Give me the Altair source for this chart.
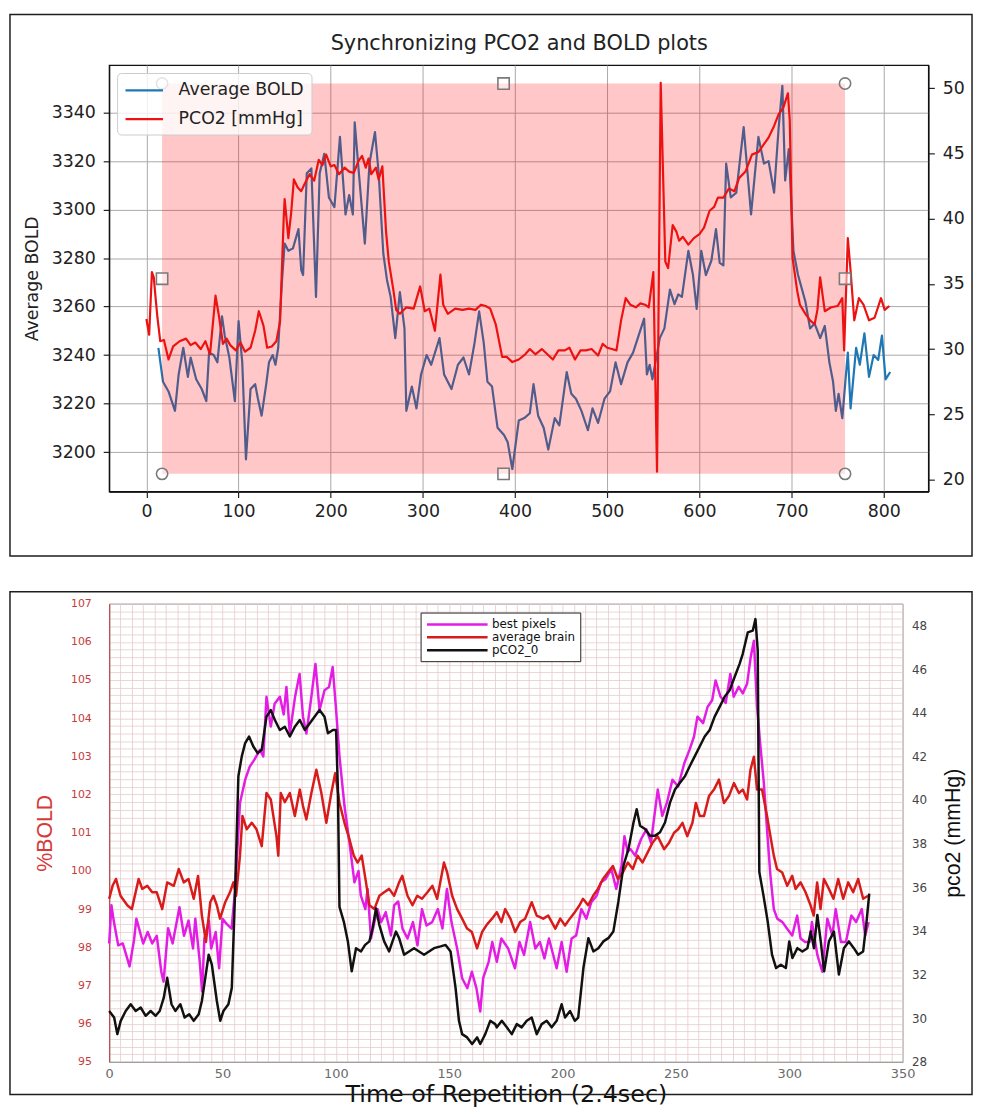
import altair as alt
import pandas as pd

FONT = "DejaVu Sans"
TOP_W, TOP_H = 826, 430
BOT_W, BOT_H = 800, 462

# ---------------- top panel data ----------------
bold_t = [13, 18, 24, 31, 35, 40, 45, 48, 54, 60, 65, 68, 73, 77, 82, 85, 90, 96, 100, 104,
          108, 113, 118, 121, 125, 130, 133, 137, 140, 143, 147, 150, 154, 159, 165, 168, 170, 174, 179, 184,
          188, 193, 198, 204, 210, 216, 220, 224, 226, 231, 237, 242, 248, 252, 257, 261, 265, 270, 275, 280,
          282, 288, 293, 298, 304, 309, 318, 323, 331, 338, 344, 350, 356, 361, 366, 370, 375, 381, 388, 392,
          397, 404, 410, 416, 420, 425, 431, 436, 443, 448, 456, 461, 466, 472, 479, 484, 490, 497, 503, 509,
          515, 522, 528, 534, 540, 543, 546, 549, 557, 562, 568, 573, 577, 581, 588, 593, 597, 602, 607, 613,
          618, 622, 626, 629, 634, 640, 648, 656, 664, 670, 675, 681, 686, 690, 693, 697, 702, 707, 715, 720,
          725, 731, 736, 741, 745, 748, 751, 755, 761, 764, 770, 774, 779, 784, 789, 794, 798, 802, 807]
bold_v = [3243, 3229, 3225, 3217, 3232, 3243, 3231, 3239, 3230, 3226, 3221, 3241, 3240, 3237, 3256, 3248, 3239, 3221, 3254, 3237,
          3197, 3226, 3228, 3222, 3215, 3228, 3237, 3240, 3236, 3243, 3270, 3286, 3283, 3284, 3292, 3275, 3273, 3315, 3317, 3264,
          3315, 3323, 3305, 3301, 3330, 3298, 3306, 3298, 3336, 3313, 3286, 3319, 3332, 3315, 3282, 3271, 3264, 3247, 3266, 3251,
          3217, 3227, 3218, 3232, 3240, 3236, 3247, 3232, 3226, 3236, 3239, 3232, 3245, 3258, 3245, 3229, 3227, 3210, 3207, 3204,
          3193, 3213, 3214, 3216, 3228, 3215, 3210, 3201, 3214, 3211, 3233, 3224, 3222, 3217, 3209, 3218, 3212, 3222, 3225, 3237,
          3228, 3237, 3241, 3248, 3255, 3232, 3236, 3230, 3247, 3251, 3267, 3261, 3265, 3264, 3283, 3273, 3259, 3283, 3273, 3279,
          3292, 3278, 3277, 3319, 3305, 3307, 3334, 3298, 3330, 3319, 3320, 3307, 3334, 3351, 3312, 3325, 3283, 3273, 3262, 3251,
          3253, 3247, 3252, 3237, 3229, 3217, 3224, 3214, 3241, 3218, 3243, 3236, 3249, 3231, 3240, 3238, 3248, 3230, 3233]

pco2_t = [0, 3, 6, 8, 10, 12, 15, 19, 24, 29, 36, 43, 48, 53, 59, 64, 69, 75, 79, 83,
          87, 91, 97, 102, 107, 113, 118, 122, 127, 131, 136, 141, 145, 149, 150, 154, 157, 160, 164, 168,
          172, 177, 182, 187, 191, 195, 200, 204, 209, 215, 220, 225, 230, 234, 238, 241, 244, 249, 252, 256,
          260, 263, 268, 271, 275, 282, 290, 297, 302, 307, 313, 319, 322, 327, 335, 343, 350, 357, 363, 368,
          373, 379, 386, 391, 397, 404, 411, 416, 422, 429, 435, 441, 447, 454, 459, 465, 471, 477, 483, 490,
          495, 500, 505, 510, 515, 520, 525, 531, 536, 541, 545, 550, 554, 558, 563, 566, 571, 575, 578, 582,
          588, 594, 600, 605, 611, 616, 620, 626, 632, 638, 643, 650, 657, 664, 670, 675, 681, 686, 691, 696,
          698, 701, 706, 709, 715, 720, 725, 728, 731, 736, 743, 750, 755, 757, 761, 764, 768, 773, 778, 784,
          790, 797, 801, 806]
pco2_v = [32.3, 31.1, 35.9, 35.5, 33.9, 32.4, 30.6, 30.7, 29.2, 30.2, 30.6, 30.8, 30.3, 30.5, 30.0, 30.6, 29.6, 34.1, 32.4, 30.4,
          30.8, 30.3, 29.9, 30.5, 29.8, 30.1, 31.4, 32.9, 31.8, 30.1, 30.2, 30.6, 32.1, 40.1, 41.5, 38.5, 40.4, 43.0, 42.4, 42.1,
          42.7, 43.4, 42.9, 44.5, 44.1, 44.9, 44.0, 44.1, 43.4, 43.9, 43.6, 43.5, 44.4, 44.8, 43.9, 44.6, 43.4, 43.9, 43.0, 44.0,
          39.0, 36.7, 34.5, 33.0, 32.7, 33.2, 33.1, 34.8, 32.9, 33.1, 31.4, 35.7, 33.4, 32.7, 33.1, 33.0, 33.1, 33.0, 33.4, 33.3,
          33.1, 31.9, 29.4, 29.4, 29.0, 29.2, 29.6, 30.0, 29.6, 30.0, 29.6, 29.2, 29.9, 29.9, 30.1, 29.2, 29.9, 29.9, 30.0, 29.5,
          30.4, 30.1, 30.0, 29.9, 32.2, 33.9, 33.4, 33.2, 33.5, 33.4, 33.2, 35.9, 20.6, 50.4, 36.7, 36.2, 39.5, 39.0, 38.3, 38.6,
          38.0, 38.5, 38.8, 39.3, 40.6, 40.9, 41.6, 41.6, 42.3, 42.1, 43.1, 43.6, 44.9, 45.1, 45.7, 46.2, 47.1, 48.0, 48.5, 49.6,
          47.5, 37.0, 34.5, 33.4, 32.7, 32.2, 31.9, 33.0, 35.5, 32.9, 33.2, 33.3, 33.9, 29.9, 38.5, 36.0, 32.2, 33.9, 33.4, 32.2,
          32.4, 33.9, 33.0, 33.3]

box_t = [17, 758]
box_v = [3191, 3352]
handle_t = [17, 387.5, 758, 17, 758, 17, 387.5, 758]
handle_v = [3352, 3352, 3352, 3271.5, 3271.5, 3191, 3191, 3191]
handle_shape = ["circle", "square", "circle", "square", "square", "circle", "square", "circle"]

top_title = "Synchronizing PCO2 and BOLD plots"
top_series = ["Average BOLD", "PCO2 [mmHg]"]
top_colors = ["#1f77b4", "#ee1111"]
top_x_ticks = list(range(0, 801, 100))
top_left_ticks = list(range(3200, 3341, 20))
top_right_ticks = list(range(20, 51, 5))

# ---------------- bottom panel data ----------------
best_t = [0, 1, 2, 4, 6, 9, 11, 12, 15, 17, 19, 21, 23, 24, 26, 28, 31, 33, 35, 37,
          38, 40, 41, 42, 44, 45, 47, 48.5, 50, 52, 54, 55.6, 57.7, 60, 62, 64, 66.5, 68, 69.4, 71.3,
          73, 75.3, 77, 78.2, 79.7, 82, 84, 85.5, 87, 89, 91, 92.8, 95, 97, 98.6, 100, 101.6, 103.8, 106, 108.2,
          110, 111, 113, 114, 115.5, 117, 118.4, 120, 122, 124.3, 125.7, 127.5, 129.4, 131.6, 134, 136, 138, 140, 142.5, 145,
          147, 149, 151, 153.5, 155.7, 158, 160, 162, 163.7, 165, 167.4, 169, 171, 173, 176, 179, 181, 183, 185.7, 188,
          190, 192, 194, 197.4, 199.6, 201.8, 204, 206, 208.3, 210.5, 212.7, 215, 217, 219, 221.5, 223.7, 226, 227.3, 228.7, 230,
          232, 234.6, 237, 239, 242, 244, 246, 248.5, 251, 253.7, 256, 258, 259.5, 262, 264, 266, 267.5, 269.7, 272, 274,
          275.5, 277.7, 279.5, 281.4, 283, 284.4, 285.8, 287.3, 288.8, 290.2, 291.7, 293.2, 294.7, 297, 299, 301.3, 303.5, 305, 307, 309,
          310, 312.4, 314.6, 316.8, 319, 320.5, 322.8, 325, 327.4, 329.5, 332, 333.5, 335]
best_v = [98.1, 99.1, 98.7, 98.05, 98.1, 97.5, 98.2, 98.75, 98.1, 98.4, 98.1, 98.3, 97.36, 97.1, 98.5, 98.1, 99.05, 98.3, 98.7, 97.97,
          98.75, 97.6, 96.84, 98.23, 98.7, 97.97, 98.4, 97.45, 98.75, 98.6, 98.49, 99.53, 101.78, 102.39, 102.73, 102.91, 103.17, 103.0, 104.56, 103.78,
          104.38, 104.56, 104.1, 104.82, 103.6, 104.56, 105.16, 104.04, 103.6, 104.47, 105.42, 104.21, 104.73, 104.82, 105.34, 104.3, 103.0, 101.7, 100.74, 99.7,
          100.0, 99.36, 99.0, 99.53, 98.23, 98.66, 99.0, 98.66, 98.92, 98.31, 99.1, 99.2, 98.49, 98.23, 98.66, 98.05, 99.0, 98.57, 98.66, 99.0,
          98.49, 99.53, 98.66, 97.97, 97.19, 96.93, 97.36, 96.93, 96.32, 97.2, 97.62, 98.14, 97.62, 98.23, 97.97, 97.45, 98.14, 97.8, 98.66, 97.97,
          98.14, 97.71, 98.23, 97.45, 98.14, 97.36, 98.23, 98.31, 99.0, 98.75, 99.18, 99.35, 99.7, 99.79, 100.05, 99.53, 100.13, 100.91, 100.5, 100.57,
          100.4, 100.83, 101.09, 100.74, 102.13, 101.44, 101.78, 102.39, 102.21, 102.82, 103.17, 103.52, 104.04, 103.87, 104.3, 104.47, 104.99, 104.56, 104.4, 105.16,
          104.56, 104.82, 104.65, 104.9, 105.6, 106.03, 104.3, 103.26, 102.3, 101.09, 99.88, 99.0, 98.75, 98.66, 98.49, 98.31, 98.83, 98.23, 98.14, 98.14,
          98.66, 97.8, 97.36, 98.75, 98.31, 99.0, 98.14, 98.14, 98.83, 98.66, 99.0, 98.31, 98.66]

avg_t = [0, 1.5, 3, 5, 8, 10, 13, 14.6, 16.8, 19, 21, 23.4, 25.6, 28.5, 30.7, 32.9, 35, 37.3, 39.2, 40.9,
         42.7, 44.6, 46, 47.5, 48.9, 51.2, 53.3, 54.8, 56, 57.7, 58.8, 60.7, 62.9, 65, 67.3, 69.4, 71.3, 73.8, 74.6, 75.7,
         77.5, 79.7, 81.9, 84.1, 85.5, 87, 89.2, 91.4, 93.6, 95.8, 98, 99.7, 101.6, 103.8, 106, 107.9, 109.6, 111.4, 113.3, 114.8,
         117, 119.2, 121.3, 123.5, 125.7, 127.9, 129.3, 131.6, 133.8, 135.9, 138, 140.4, 142.6, 144.7, 147.7, 149.1, 151.3, 153.5, 155.7, 157.9,
         160, 162.3, 164.5, 166.7, 168.9, 171, 173, 174.7, 177, 179.1, 181.3, 183.5, 186.4, 188.6, 191.5, 193.7, 196.8, 199, 201.1, 203.2,
         205.4, 207.5, 209, 211.3, 213.5, 215.6, 217.8, 220, 222.2, 224.4, 226.6, 228.8, 231, 233.1, 235.3, 237.5, 239.7, 241.9, 244.8, 247,
         249.2, 251, 252.9, 255, 257.3, 258.8, 260.5, 262.4, 264.6, 266.8, 269, 271.2, 273.4, 275.6, 277.8, 279.5, 281.4, 282.9, 284.4, 285.8,
         288, 290.2, 291.7, 293.2, 294.6, 296.9, 299.1, 301.3, 302.8, 305, 307.2, 309.4, 310.8, 312.3, 313.8, 315.3, 317.5, 319.5, 321.6, 323.8,
         326, 328.2, 330.4, 332.6, 334.8]
avg_v = [99.27, 99.61, 99.79, 99.35, 99.1, 99.0, 99.79, 99.53, 99.61, 99.44, 99.44, 99.0, 99.7, 99.61, 100.05, 99.7, 99.79, 99.27, 99.87, 98.83,
         98.14, 99.18, 99.35, 99.1, 98.75, 99.18, 99.44, 99.7, 99.35, 100.4, 101.44, 101.09, 101.26, 101.09, 100.65, 102.04, 101.87, 100.91, 100.4, 102.04,
         101.8, 102.04, 101.44, 102.13, 101.7, 101.35, 102.04, 102.65, 102.04, 101.26, 102.04, 102.56, 101.78, 101.26, 100.83, 100.4, 100.22, 100.4, 99.7, 99.1,
         99.0, 99.35, 99.44, 99.53, 99.35, 99.7, 99.87, 99.35, 99.1, 99.35, 99.27, 99.44, 99.61, 99.27, 100.22, 99.96, 99.35, 99.0, 98.75, 98.49,
         98.4, 97.97, 98.4, 98.6, 98.75, 98.92, 98.66, 99.0, 98.75, 98.4, 98.66, 98.75, 99.18, 98.83, 98.75, 98.83, 98.49, 98.75, 98.57, 98.75,
         98.92, 99.1, 99.27, 99.1, 99.35, 99.53, 99.79, 99.96, 100.13, 99.79, 99.96, 100.22, 100.05, 100.4, 100.22, 100.48, 100.74, 100.91, 100.57, 100.74,
         101.0, 101.09, 101.26, 100.91, 101.26, 101.78, 101.44, 101.44, 101.96, 102.13, 102.39, 101.78, 101.96, 102.3, 102.04, 102.13, 101.87, 102.65, 102.99, 102.13,
         102.13, 101.44, 100.91, 100.4, 100.05, 99.96, 99.61, 99.87, 99.53, 99.7, 99.44, 99.1, 98.83, 99.7, 99.0, 99.79, 99.53, 99.27, 99.79, 99.27,
         99.7, 99.44, 99.79, 99.27, 99.35]

pco2b_t = [0, 2.2, 3.6, 5.1, 7.3, 9.5, 11.7, 13.9, 16.1, 18.3, 20.5, 22.3, 24.1, 25.6, 27.5, 29.2, 31.4, 33.3, 35.3, 37.3,
           39.5, 40.9, 42.4, 43.9, 45.3, 47.5, 49, 50.4, 52.6, 54.1, 55.6, 57, 58.5, 60, 61.7, 63.6, 65.5, 67.3, 69.4, 71.3,
           73.1, 75.3, 77.5, 79.7, 81.9, 84.1, 86.3, 88.5, 90.6, 92.8, 95, 96.5, 98.7, 100.1, 100.9, 101.6, 103.5, 105.3, 107, 108.9,
           111.1, 112.9, 114.8, 116.2, 117.7, 119.2, 121.3, 123.5, 125, 126.5, 127.9, 130.1, 132.3, 134.5, 136.7, 138.9, 141.1, 143.3, 146.2, 148.4,
           150.6, 152.8, 154.3, 155.7, 157.9, 160.1, 162.3, 163.7, 165.9, 168.1, 170.3, 171, 173.2, 175.4, 177.6, 179.8, 182, 184.2, 186.4, 188.6,
           190.8, 193, 195.2, 197.4, 199.6, 201.1, 203.3, 205.4, 206.9, 209.2, 211.4, 213.6, 215.8, 218, 220.2, 222.4, 224.6, 226.9, 229.1, 231.3,
           232.7, 234.2, 236.4, 238.6, 240.8, 243, 245.2, 247.4, 249.6, 251.8, 254, 256.1, 258.3, 260.5, 262.7, 264.9, 267.1, 269.3, 271.5, 273.7,
           275.9, 278.1, 279.5, 281.7, 283.9, 285.1, 286.1, 286.8, 288.6, 290.5, 292.4, 294.2, 296.3, 298.5, 300, 301.4, 303.6, 305.8, 308, 309.5,
           310.9, 312.4, 313.9, 315.4, 317.5, 319.7, 321.9, 324.1, 326.3, 328.5, 330.4, 332.6, 334.1, 335.3]
pco2b_v = [30.33, 30.03, 29.27, 29.88, 30.33, 30.64, 30.33, 30.49, 30.11, 30.33, 30.11, 30.33, 30.94, 31.85, 30.64, 30.33, 30.64, 30.03, 30.18, 29.88,
           30.18, 30.79, 31.85, 32.91, 32.45, 30.79, 29.88, 30.33, 30.64, 31.39, 35.94, 41.09, 42.0, 42.61, 42.91, 42.45, 42.15, 42.3, 43.82, 44.12,
           43.67, 43.21, 43.36, 42.91, 43.36, 43.67, 43.21, 43.52, 43.82, 44.12, 43.82, 43.06, 43.21, 43.21, 40.48, 35.1, 34.43, 33.52, 32.15, 33.21,
           33.06, 33.36, 33.52, 34.12, 35.03, 34.27, 33.52, 33.06, 33.52, 33.97, 33.67, 32.91, 33.06, 33.21, 33.06, 32.91, 33.06, 33.21, 33.29, 33.36,
           33.06, 31.39, 29.88, 29.27, 29.12, 28.82, 29.12, 28.82, 29.27, 29.88, 29.73, 29.58, 29.88, 29.58, 29.27, 29.73, 29.58, 29.88, 30.03, 29.27,
           29.73, 29.88, 29.58, 29.88, 30.64, 30.03, 30.33, 29.88, 30.03, 32.3, 33.67, 33.06, 33.21, 33.52, 33.67, 33.97, 35.33, 37.0, 37.76, 38.97,
           39.58, 38.82, 38.67, 38.36, 38.36, 38.52, 38.97, 39.88, 40.48, 40.79, 41.09, 41.55, 42.0, 42.45, 42.91, 43.21, 43.82, 44.27, 44.73, 45.03,
           45.64, 46.24, 46.7, 47.68, 47.76, 48.29, 46.85, 36.7, 35.64, 34.43, 32.91, 32.3, 32.45, 32.3, 33.52, 32.76, 33.21, 33.06, 33.21, 33.97,
           33.21, 34.73, 33.52, 32.15, 33.52, 33.97, 32.0, 33.21, 33.52, 33.21, 32.91, 33.06, 34.43, 35.71]

bot_series = ["best pixels", "average brain", "pCO2_0"]
bot_colors = ["#e31de3", "#d81b1b", "#111111"]
bot_x_ticks = list(range(0, 351, 50))
bot_x_grid = list(range(0, 351, 5))
bot_y_grid = [round(95 + 0.2 * i, 1) for i in range(61)]
bot_r_ticks = list(range(28, 49, 2))

# ---------------- frames ----------------
one = pd.DataFrame({"k": [0]})
bold_df = pd.DataFrame({"t": bold_t, "v": bold_v, "s": top_series[0]})
pco2_df = pd.DataFrame({"t": pco2_t, "v": pco2_v, "s": top_series[1]})
box_df = pd.DataFrame({"x0": [box_t[0]], "x1": [box_t[1]], "y0": [box_v[0]], "y1": [box_v[1]]})
handles_df = pd.DataFrame({"t": handle_t, "v": handle_v, "shape": handle_shape})
best_df = pd.DataFrame({"t": best_t, "v": best_v, "s": bot_series[0]})
avg_df = pd.DataFrame({"t": avg_t, "v": avg_v, "s": bot_series[1]})
pb_df = pd.DataFrame({"t": pco2b_t, "v": pco2b_v, "s": bot_series[2]})

# ---------------- top panel ----------------
xs_top = alt.Scale(domain=[-40.4, 848.4], nice=False, zero=False)
yl_top = alt.Scale(domain=[3183.7, 3359.6], nice=False, zero=False)
yr_top = alt.Scale(domain=[19.08, 51.76], nice=False, zero=False)
col_top = alt.Scale(domain=top_series, range=top_colors)

common_lab = dict(labelFont=FONT, labelFontSize=17.5, labelColor="#222222", tickColor="#222222",
                  tickSize=6, tickWidth=1.2, domainColor="#111111", domainWidth=1.3)
ax_x_top = alt.Axis(values=top_x_ticks, grid=True, gridColor="#a9a9a9", gridWidth=1, title=None,
                    labelFlush=False, format="d", labelPadding=5, **common_lab)
ax_title_top = alt.Axis(orient="top", grid=False, labels=False, ticks=False, domain=False,
                        title=top_title, titleFont=FONT, titleFontSize=21, titleFontWeight="normal",
                        titleColor="#222222", titlePadding=12)
ax_yl_top = alt.Axis(values=top_left_ticks, grid=True, gridColor="#a9a9a9", gridWidth=1, format="d",
                     labelPadding=8,
                     title="Average BOLD", titleFont=FONT, titleFontSize=17.5, titleFontWeight="normal",
                     titleColor="#222222", titlePadding=10, **common_lab)
ax_yr_top = alt.Axis(orient="right", values=top_right_ticks, grid=False, title=None, format="d",
                     labelPadding=8, **common_lab)

# stroke symbol drawn from the left edge of the symbol box, so rows can stay tight
legend_top = alt.Legend(title=None, orient="none", legendX=8, legendY=8, direction="vertical",
                        symbolType="M-1,0H3.2", symbolSize=324, symbolStrokeWidth=2.2,
                        labelFont=FONT, labelFontSize=17.5, labelColor="#222222", labelOffset=34,
                        labelLimit=0, rowPadding=10, padding=7, fillColor="rgba(255,255,255,0.8)",
                        strokeColor="#cccccc", cornerRadius=4)

frame_top = alt.Chart(one).mark_rect(fillOpacity=0, stroke="#1e1e1e", strokeWidth=1.5).encode(
    x=alt.value(-100), x2=alt.value(TOP_W + 44), y=alt.value(-51), y2=alt.value(TOP_H + 65))

bold_line = alt.Chart(bold_df).mark_line(strokeWidth=2.2, strokeJoin="round").encode(
    x=alt.X("t:Q", scale=xs_top, axis=ax_x_top), y=alt.Y("v:Q", scale=yl_top, axis=ax_yl_top),
    color=alt.Color("s:N", scale=col_top, legend=legend_top))

pink = alt.Chart(box_df).mark_rect(color="#ff0000", opacity=0.22).encode(
    x=alt.X("x0:Q", scale=xs_top, axis=None), x2="x1:Q",
    y=alt.Y("y0:Q", scale=yl_top, axis=None), y2="y1:Q")

pco2_line = alt.Chart(pco2_df).mark_line(strokeWidth=2.2, strokeJoin="round").encode(
    x=alt.X("t:Q", scale=xs_top, axis=None), y=alt.Y("v:Q", scale=yr_top, axis=ax_yr_top),
    color=alt.Color("s:N", scale=col_top, legend=legend_top))

handles = alt.Chart(handles_df).mark_point(filled=True, fill="#ffffff", fillOpacity=0.5, stroke="#7a7a7a",
                                           strokeWidth=1.6, size=130, opacity=1).encode(
    x=alt.X("t:Q", scale=xs_top, axis=ax_title_top), y=alt.Y("v:Q", scale=yl_top, axis=None),
    shape=alt.Shape("shape:N", scale=None))

top = alt.layer(frame_top, bold_line, pink, pco2_line, handles).resolve_scale(y="independent").resolve_axis(
    x="independent", y="independent").properties(
    width=TOP_W, height=TOP_H, view=alt.ViewBackground(stroke="#111111", strokeWidth=1.3))

# ---------------- bottom panel ----------------
xs_bot = alt.Scale(domain=[0, 350], nice=False, zero=False)
yl_bot = alt.Scale(domain=[95, 107], nice=False, zero=False)
yr_bot = alt.Scale(domain=[28, 49], nice=False, zero=False)
col_bot = alt.Scale(domain=bot_series, range=bot_colors)
GRID = "#e6caca"

ax_x_grid = alt.Axis(orient="top", values=bot_x_grid, tickCount=400, tickMinStep=0.1, grid=True,
                     gridColor=GRID, gridWidth=0.8, labels=False, ticks=False, domain=False, title=None)
ax_x_bot = alt.Axis(orient="bottom", values=bot_x_ticks, grid=False, ticks=False, domainColor="#999999",
                    labelFont=FONT, labelFontSize=13, labelColor="#6a6a6a", labelPadding=6, labelFlush=False,
                    format="d",
                    title="Time of Repetition (2.4sec)", titleFont=FONT, titleFontSize=24,
                    titleFontWeight="normal", titleColor="#111111", titlePadding=2)
ax_yl_bot = alt.Axis(orient="left", values=bot_y_grid, tickCount=400, tickMinStep=0.01, grid=True,
                     gridColor=GRID, gridWidth=0.8,
                     labelExpr="datum.value % 1 == 0 ? format(datum.value, 'd') : ''", labelOverlap=False,
                     labelFlush=False, ticks=False, labelPadding=18, labelFont=FONT, labelFontSize=11,
                     labelColor="#c43c3c", domainColor="#b84848", domainWidth=1.2,
                     title="%BOLD", titleFont="Liberation Sans", titleFontSize=21.5,
                     titleFontWeight="normal", titleColor="#d63a3a", titlePadding=14)
ax_yr_bot = alt.Axis(orient="right", values=bot_r_ticks, tickCount=100, grid=False, ticks=False, domain=False,
                     labelPadding=9, labelFont=FONT, labelFontSize=12, labelColor="#444444",
                     labelFlush=False, labelOverlap=False, format="d",
                     title="pco2 (mmHg)", titleFont="Liberation Sans", titleFontSize=21.5,
                     titleFontWeight="normal", titleColor="#111111", titleAngle=270,
                     titleBaseline="top", titlePadding=16)

legend_bot = alt.Legend(title=None, orient="none", legendX=314, legendY=9, direction="vertical",
                        symbolType="M-1,0H10.1", symbolSize=121, symbolStrokeWidth=2.5,
                        labelFont=FONT, labelFontSize=12, labelColor="#111111", labelOffset=53,
                        labelLimit=0, rowPadding=0, padding=5, fillColor="#ffffff",
                        strokeColor="#222222", cornerRadius=0)

frame_bot = alt.Chart(one).mark_rect(fillOpacity=0, stroke="#1e1e1e", strokeWidth=1.5).encode(
    x=alt.value(-100), x2=alt.value(BOT_W + 70), y=alt.value(-12), y2=alt.value(BOT_H + 33))

mag = alt.Chart(best_df).mark_line(strokeWidth=2.5, strokeJoin="round").encode(
    x=alt.X("t:Q", scale=xs_bot, axis=ax_x_grid),
    y=alt.Y("v:Q", scale=yl_bot, axis=ax_yl_bot),
    color=alt.Color("s:N", scale=col_bot, legend=legend_bot))
red = alt.Chart(avg_df).mark_line(strokeWidth=2.5, strokeJoin="round").encode(
    x=alt.X("t:Q", scale=xs_bot, axis=None),
    y=alt.Y("v:Q", scale=yl_bot, axis=None),
    color=alt.Color("s:N", scale=col_bot, legend=legend_bot))
blk = alt.Chart(pb_df).mark_line(strokeWidth=2.5, strokeJoin="round").encode(
    x=alt.X("t:Q", scale=xs_bot, axis=ax_x_bot),
    y=alt.Y("v:Q", scale=yr_bot, axis=ax_yr_bot),
    color=alt.Color("s:N", scale=col_bot, legend=legend_bot))

bottom = alt.layer(frame_bot, mag, red, blk).resolve_scale(y="independent").resolve_axis(
    x="independent", y="independent").properties(
    width=BOT_W, height=BOT_H, view=alt.ViewBackground(stroke="#8c8c8c", strokeWidth=1))

chart = alt.vconcat(top, bottom, spacing=113, bounds="flush", padding=0).resolve_scale(
    color="independent").configure(font=FONT)

chart.save("out.html", embed_options={"renderer": "svg", "actions": False})
